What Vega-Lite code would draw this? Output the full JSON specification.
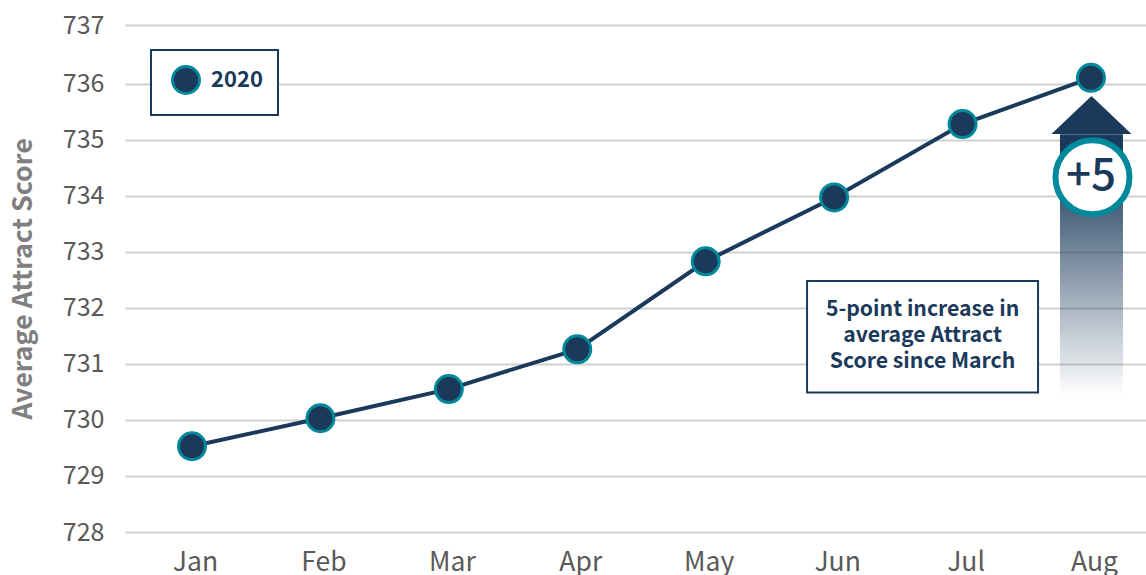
{"$schema":"https://vega.github.io/schema/vega-lite/v6.json","width":1021,"height":507,"autosize":{"type":"none"},"padding":{"left":125,"top":25,"right":0,"bottom":43},"background":"white",
"config":{"view":{"stroke":null},"font":"Noto Sans CJK SC","legend":{"strokeWidth":2}},
"datasets":{"scores":[{"month":"Jan","score":729.53,"series":"2020"},{"month":"Feb","score":730.03,"series":"2020"},{"month":"Mar","score":730.55,"series":"2020"},{"month":"Apr","score":731.26,"series":"2020"},{"month":"May","score":732.83,"series":"2020"},{"month":"Jun","score":733.97,"series":"2020"},{"month":"Jul","score":735.28,"series":"2020"},{"month":"Aug","score":736.1,"series":"2020"}],
"arrow":[{"month":"Aug","top":735.1,"bottom":730.44,"head":735.44,"badge":734.33,"label":"+5"}],
"box":[{"month":"Jul","top":732.48,"bottom":730.49}],
"note":[{"month":"Jul","score":731.97,"text":"5-point increase in"},{"month":"Jul","score":731.5,"text":"average Attract"},{"month":"Jul","score":731.03,"text":"Score since March"}]},
"encoding":{"x":{"field":"month","type":"ordinal","sort":null,"title":null,"scale":{"type":"point","padding":0.475,"align":0.549,"domain":["Jan","Feb","Mar","Apr","May","Jun","Jul","Aug"]},"axis":{"domain":false,"ticks":false,"grid":false,"labelAngle":0,"labelFontSize":26.5,"labelColor":"#595959","labelPadding":17,"labelOffset":3}}},
"layer":[
{"data":{"name":"box"},"mark":{"type":"bar","size":231,"xOffset":-40,"fill":"white","stroke":"#1b3a5b","strokeWidth":2},"encoding":{"y":{"field":"top","type":"quantitative","title":"Average Attract Score","scale":{"domain":[728,736,737],"range":[507,58.7,0]},"axis":{"values":[728,729,730,731,732,733,734,735,736,737],"format":"d","domain":false,"ticks":false,"grid":true,"gridColor":"#d0d0d0","gridWidth":2,"labelFontSize":25,"labelColor":"#595959","labelPadding":21,"titleFontSize":26.8,"titleFontWeight":"bold","titleColor":"#7f7f7f","titlePadding":25}},"y2":{"field":"bottom"}}},
{"data":{"name":"arrow"},"mark":{"type":"bar","size":63,"xOffset":0.5,"fill":{"gradient":"linear","x1":0,"y1":0,"x2":0,"y2":1,"stops":[{"offset":0,"color":"#1b3a5b"},{"offset":0.1,"color":"#1b3a5b"},{"offset":1,"color":"rgba(27,58,91,0)"}]}},"encoding":{"y":{"field":"top","type":"quantitative"},"y2":{"field":"bottom"}}},
{"data":{"name":"arrow"},"mark":{"type":"point","filled":true,"shape":"M-1,0.475L0,-0.475L1,0.475Z","size":6400,"opacity":1,"color":"#1b3a5b","xOffset":0.5},"encoding":{"y":{"field":"head","type":"quantitative"}}},
{"data":{"name":"arrow"},"mark":{"type":"point","filled":true,"shape":"circle","size":5476,"opacity":1,"fill":"white","stroke":"#00899b","strokeWidth":6,"xOffset":1.5},"encoding":{"y":{"field":"badge","type":"quantitative"}}},
{"data":{"name":"arrow"},"mark":{"type":"text","fontSize":44,"fontWeight":500,"color":"#1b3a5b","xOffset":0,"baseline":"middle"},"encoding":{"y":{"field":"badge","type":"quantitative"},"text":{"field":"label"}}},
{"data":{"name":"note"},"mark":{"type":"text","fontSize":21.2,"fontWeight":"bold","color":"#1b3a5b","xOffset":-40,"baseline":"middle"},"encoding":{"y":{"field":"score","type":"quantitative"},"text":{"field":"text"}}},
{"data":{"name":"scores"},"mark":{"type":"line","stroke":"#1b3a5b","strokeWidth":4},"encoding":{"y":{"field":"score","type":"quantitative"}}},
{"data":{"name":"scores"},"mark":{"type":"point","filled":true,"size":729,"opacity":1,"stroke":"#00899b","strokeWidth":3},"encoding":{"y":{"field":"score","type":"quantitative"},"color":{"field":"series","type":"nominal","scale":{"domain":["2020"],"range":["#1b3a5b"]},"legend":{"title":null,"orient":"none","legendX":26,"legendY":25,"padding":15,"strokeColor":"#1b3a5b","fillColor":"white","symbolType":"circle","symbolSize":729,"symbolStrokeColor":"#00899b","symbolStrokeWidth":3,"symbolOpacity":1,"symbolOffset":5,"labelFontSize":22,"labelFontWeight":"bold","labelColor":"#1b3a5b","labelOffset":10,"encoding":{"labels":{"update":{"dy":{"value":2}}}}}}}}
]}
